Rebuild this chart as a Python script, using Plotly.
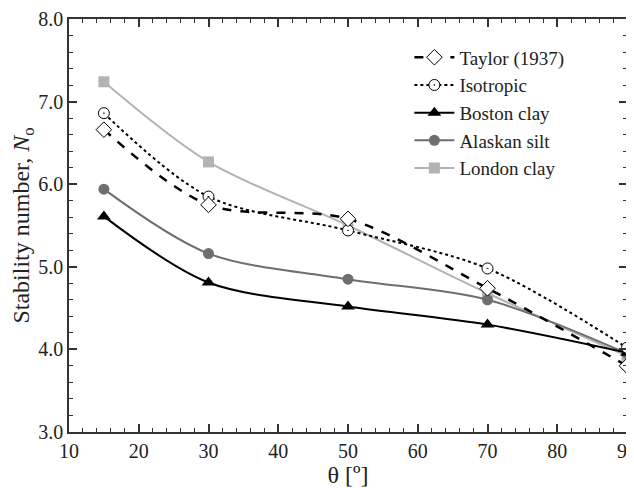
import plotly.graph_objects as go

theta = [15, 30, 50, 70, 90]
taylor = [6.66, 5.75, 5.58, 4.74, 3.80]
isotropic = [6.86, 5.85, 5.44, 4.98, 4.02]
boston = [5.61, 4.81, 4.52, 4.30, 3.96]
alaskan = [5.94, 5.16, 4.85, 4.60, 3.95]
london = [7.24, 6.27, 5.50, 4.68, 3.92]

FONT = "Liberation Serif"
TXT = "#222222"
AX = "#333333"

fig = go.Figure()

fig.add_trace(go.Scatter(
    x=theta, y=london, name="London clay", mode="lines+markers", legendrank=5,
    line=dict(color="#b3b3b3", width=2, shape="spline", smoothing=0.9),
    marker=dict(symbol="square", size=11, color="#b3b3b3")))
fig.add_trace(go.Scatter(
    x=theta, y=alaskan, name="Alaskan silt", mode="lines+markers", legendrank=4,
    line=dict(color="#6e6e6e", width=2, shape="spline", smoothing=0.9),
    marker=dict(symbol="circle", size=11, color="#6e6e6e")))
fig.add_trace(go.Scatter(
    x=theta, y=boston, name="Boston clay", mode="lines+markers", legendrank=3,
    line=dict(color="black", width=2, shape="spline", smoothing=0.9),
    marker=dict(symbol="triangle-up", size=12, color="black")))
fig.add_trace(go.Scatter(
    x=theta, y=isotropic, name="Isotropic", mode="lines+markers", legendrank=2,
    line=dict(color="black", width=2, dash="dot", shape="spline", smoothing=0.9),
    marker=dict(symbol="circle-dot", size=11, color="white",
                line=dict(color="black", width=1))))
fig.add_trace(go.Scatter(
    x=theta, y=taylor, name="Taylor (1937)", mode="lines+markers", legendrank=1,
    line=dict(color="black", width=2.5, dash="dash", shape="spline", smoothing=0.9),
    marker=dict(symbol="diamond", size=12, color="white",
                line=dict(color="black", width=1))))

fig.update_xaxes(
    range=[10, 90], dtick=10, ticklabeloverflow="allow", layer="above traces",
    showline=True, linecolor=AX, linewidth=1.5, mirror="ticks",
    ticks="inside", ticklen=8, tickcolor=AX, tickwidth=1.5, showgrid=False,
    automargin=False,
    minor=dict(ticks="inside", ticklen=4, dtick=2, tickcolor=AX, tickwidth=1),
    title=dict(text="θ [º]", standoff=6))
fig.update_yaxes(
    range=[3.0, 8.0], dtick=1.0, tickformat=".1f", layer="above traces",
    showline=True, linecolor=AX, linewidth=1.5, mirror="ticks",
    ticks="inside", ticklen=8, tickcolor=AX, tickwidth=1.5, showgrid=False,
    automargin=False,
    minor=dict(ticks="inside", ticklen=4, dtick=0.2, tickcolor=AX, tickwidth=1),
    title=dict(text="Stability number, <i>N</i><sub>o</sub>", standoff=14))

# The page adds an 8px body margin, so the figure is sized to fill the rest.
fig.update_layout(
    width=626, height=480,
    margin=dict(l=61, r=7, t=11, b=56),
    plot_bgcolor="white", paper_bgcolor="white",
    font=dict(family=FONT, size=20, color=TXT),
    showlegend=True,
    legend=dict(x=0.61, y=0.953, xanchor="left", yanchor="top",
                bgcolor="rgba(0,0,0,0)", borderwidth=0,
                font=dict(family=FONT, size=19, color=TXT),
                tracegroupgap=0, itemwidth=40),
)

fig.write_html("out.html")
